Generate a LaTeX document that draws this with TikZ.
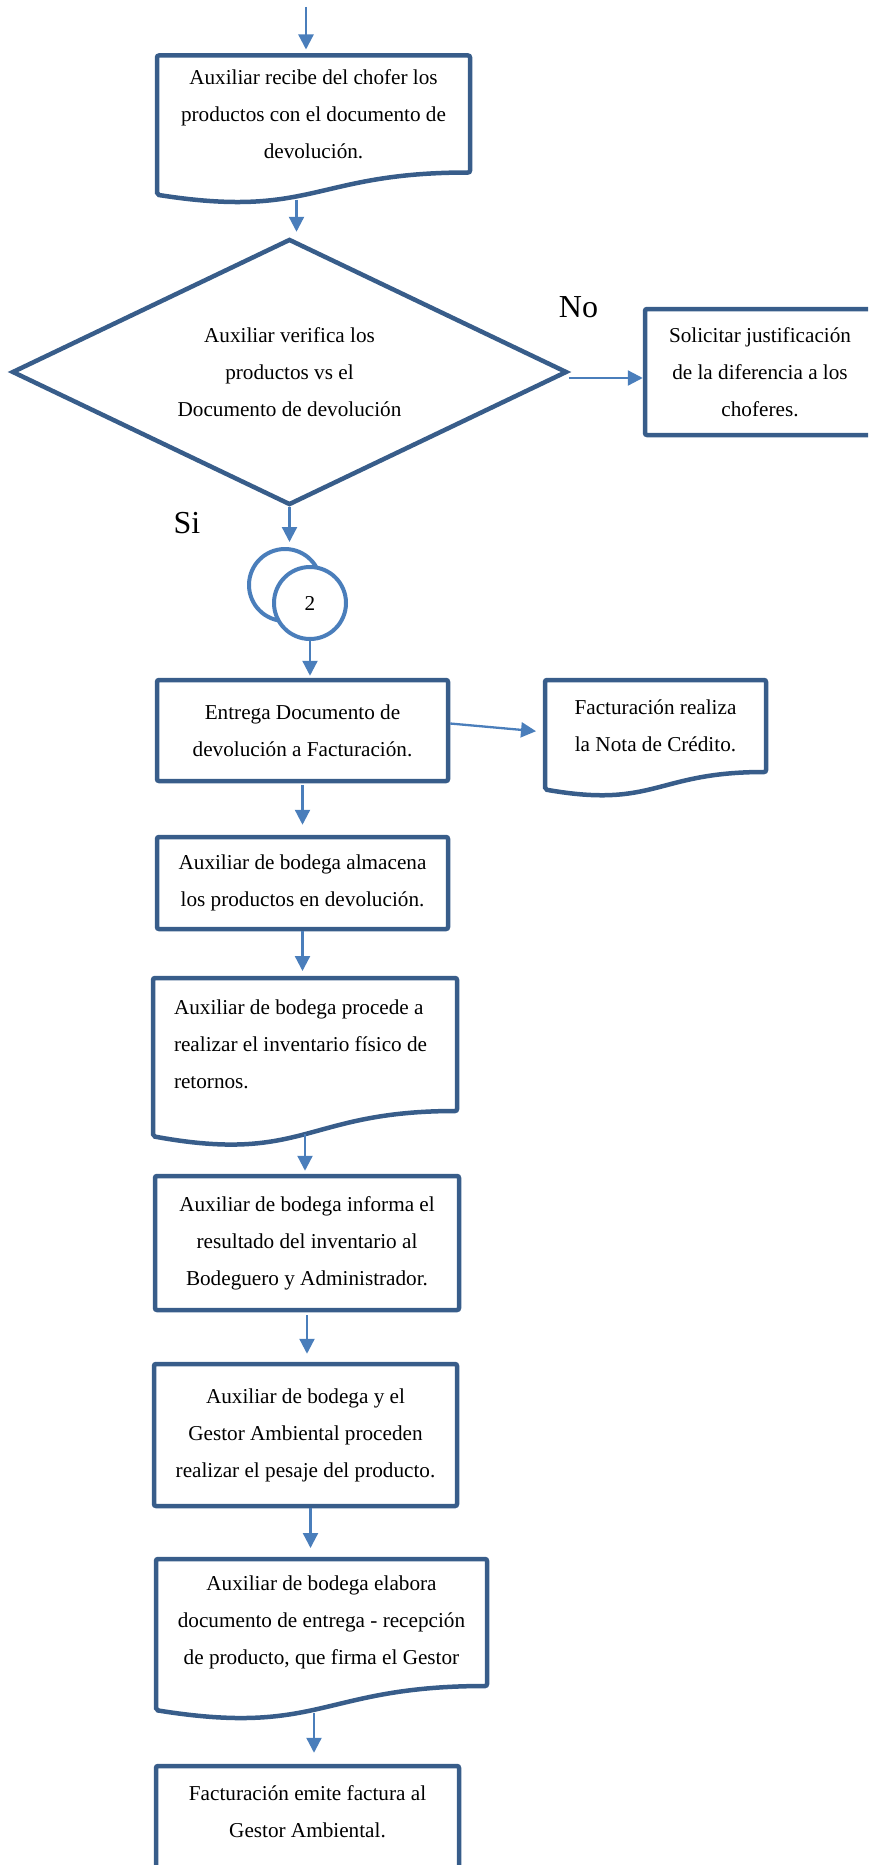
\documentclass[tikz,border=0pt]{standalone}
\usepackage{fontspec}
\setmainfont{Liberation Serif}
\usetikzlibrary{arrows.meta,positioning,calc,shapes.geometric}
\definecolor{frameblue}{RGB}{56,93,138}
\definecolor{lineblue}{RGB}{74,126,187}
\newcommand{\docframe}[1]{\draw[docline] let \p1=(#1.north west),\p2=(#1.south east),\n1={\y1-\y2} in (\x1,\y1) -- (\x2,\y1) -- (\x2,\y2) .. controls ({(\x1+\x2)/2},\y2) and ({(\x1+\x2)/2},{\y1-1.40*\n1}) .. coordinate[pos=.5] (#1-b) (\x1,{\y1-1.19*\n1}) -- cycle;}
\begin{document}
\begin{tikzpicture}[x=1pt,y=-1pt,>={Triangle[length=15pt,width=15pt]},txt/.style={font=\fontsize{21.2}{37}\selectfont},box/.style={txt,draw=frameblue,line width=4.5pt,rounded corners=2pt,align=center,inner sep=0pt},docnode/.style={txt,align=center,inner sep=0pt,outer sep=0pt},docline/.style={draw=frameblue,line width=4.5pt,rounded corners=2pt},decision/.style={txt,diamond,draw=frameblue,line width=4.5pt,align=center,inner sep=0pt,shape aspect=2.1},conn/.style={txt,circle,draw=lineblue,line width=4pt,fill=white,inner sep=0pt,minimum size=72pt},arr/.style={->,draw=lineblue,line width=2.3pt},lbl/.style={font=\fontsize{32}{38}\selectfont,inner sep=0pt}]
\useasboundingbox (0,0) rectangle (868,1865);
\clip (0,0) rectangle (868,1865);
\node[docnode,minimum width=313pt,minimum height=117pt] (recibe) at (313.5,114) {Auxiliar recibe del chofer los\\productos con el documento de\\devolución.};
\docframe{recibe}
\node[decision,minimum width=555pt,minimum height=266pt] (verifica) at (289.5,372) {Auxiliar verifica los\\productos vs el\\Documento de devolución};
\node[box,minimum width=230pt,minimum height=126pt] (justifica) at (760,372) {Solicitar justificación\\de la diferencia a los\\choferes.};
\node[lbl] (no) at (578.5,307.5) {No};
\node[lbl] (si) at (187,523) {Si};
\node[conn] (conback) at (285,585) {};
\node[conn] (confront) at (310,603) {2};
\node[box,minimum width=291pt,minimum height=101pt] (entrega) at (302.5,730.5) {Entrega Documento de\\devolución a Facturación.};
\node[docnode,minimum width=221pt,minimum height=92pt] (nota) at (655.5,726) {Facturación realiza\\la Nota de Crédito.};
\docframe{nota}
\node[box,minimum width=291pt,minimum height=92pt] (almacena) at (302.5,883) {Auxiliar de bodega almacena\\los productos en devolución.};
\node[docnode,align=flush left,text width=262pt,inner xsep=21pt,minimum height=133pt] (inventario) at (305,1044.5) {Auxiliar de bodega procede a\\realizar el inventario físico de\\retornos.};
\docframe{inventario}
\node[box,minimum width=304pt,minimum height=134pt] (informa) at (307,1243) {Auxiliar de bodega informa el\\resultado del inventario al\\Bodeguero y Administrador.};
\node[box,minimum width=303pt,minimum height=142pt] (pesaje) at (305.5,1435) {Auxiliar de bodega y el\\Gestor Ambiental proceden\\realizar el pesaje del producto.};
\node[docnode,minimum width=331pt,minimum height=127pt] (acta) at (321.5,1622.5) {Auxiliar de bodega elabora\\documento de entrega - recepción\\de producto, que firma el Gestor};
\docframe{acta}
\node[box,minimum width=303pt,minimum height=128pt] (factura) at (307.5,1830) {Facturación emite factura al\\Gestor Ambiental.\\\mbox{}};
\coordinate (in) at (306,7);
\draw[arr,shorten >=6pt] (in) -- (in |- recibe.north);
\coordinate (out1) at ([xshift=-17pt]recibe-b);
\draw[arr,shorten <=7pt,shorten >=5pt] (out1) -- (out1 |- verifica.north);
\draw[arr,shorten >=5pt] (verifica.south) -- (verifica.south |- conback.north);
\draw[arr,shorten >=2pt] (confront.south) -- (confront.south |- entrega.north);
\draw[arr,shorten >=9pt] ([yshift=7pt]entrega.east) -- ([yshift=-6pt]nota.west);
\draw[arr] ([yshift=-6pt]verifica.east) -- ([yshift=-6pt]justifica.west);
\draw[arr,shorten <=2pt,shorten >=10pt] (entrega.south) -- (entrega.south |- almacena.north);
\draw[arr,shorten >=7pt] (almacena.south) -- (almacena.south |- inventario.north);
\draw[arr,shorten >=3pt] (inventario-b) -- (inventario-b |- informa.north);
\draw[arr,shorten <=3pt,shorten >=8pt] (informa.south) -- (informa.south |- pesaje.north);
\coordinate (out5) at ([xshift=5pt]pesaje.south);
\draw[arr,shorten >=11pt] (out5) -- (out5 |- acta.north);
\coordinate (out6) at ([xshift=-7.5pt]acta-b);
\draw[arr,shorten <=5pt,shorten >=11pt] (out6) -- (out6 |- factura.north);
\end{tikzpicture}
\end{document}
